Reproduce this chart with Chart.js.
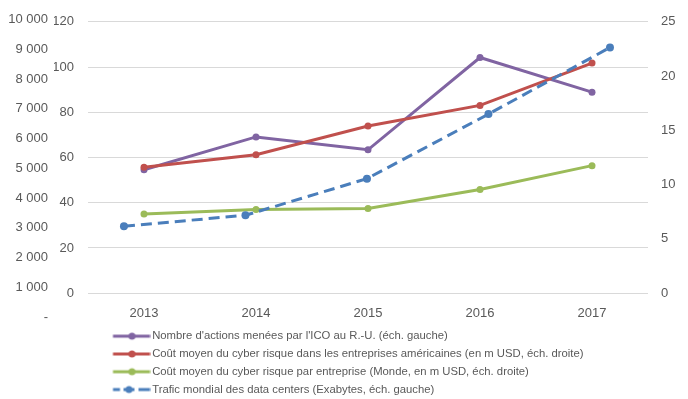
<!DOCTYPE html>
<html><head><meta charset="utf-8">
<script src="https://cdn.jsdelivr.net/npm/chart.js@4/dist/chart.umd.min.js"></script>
<style>html,body{margin:0;padding:0;background:#fff}#wrap{width:688px;height:399px;position:relative}</style>
</head><body><div id="wrap"><canvas id="c" width="688" height="399"></canvas></div>
<script>
const categories = ['2013', '2014', '2015', '2016', '2017'];
const icoActions = [54.6, 69.1, 63.4, 104.2, 88.9];
const usCyberCost = [11.6, 12.75, 15.4, 17.3, 21.2];
const worldCyberCost = [7.3, 7.72, 7.8, 9.55, 11.75];
const dataCenterTraffic = [3050, 3420, 4650, 6820, 9060];
const seriesNames = [
  "Nombre d'actions menées par l'ICO au R.-U. (éch. gauche)",
  "Coût moyen du cyber risque dans les entreprises américaines (en m USD, éch. droite)",
  "Coût moyen du cyber risque par entreprise (Monde, en m USD, éch. droite)",
  "Trafic mondial des data centers (Exabytes, éch. gauche)"
];
const leftTicks = [0, 20, 40, 60, 80, 100, 120];
const rightTicks = [0, 5, 10, 15, 20, 25];
const trafficTicks = [0, 1000, 2000, 3000, 4000, 5000, 6000, 7000, 8000, 9000, 10000];
const trafficTickLabels = ['-', '1 000', '2 000', '3 000', '4 000', '5 000', '6 000', '7 000', '8 000', '9 000', '10 000'];

const colors = ['#8064A2', '#C0504D', '#9BBB59', '#4A7EBB'];
const tickFont = { family: 'Liberation Sans, Arial, sans-serif', size: 13 };
const tickColor = '#595959';

function legendImg(color, dashed) {
  const c = document.createElement('canvas');
  c.width = 48; c.height = 10;
  const g = c.getContext('2d');
  g.strokeStyle = color; g.fillStyle = color; g.lineWidth = 3;
  if (dashed) {
    [[10.5, 17.5], [21, 32], [36, 47.5]].forEach(s => { g.beginPath(); g.moveTo(s[0], 5); g.lineTo(s[1], 5); g.stroke(); });
    g.beginPath(); g.arc(26.5, 5, 3.5, 0, Math.PI * 2); g.fill();
  } else {
    g.beginPath(); g.moveTo(10.5, 5); g.lineTo(47.5, 5); g.stroke();
    g.beginPath(); g.arc(29.5, 5, 3.5, 0, Math.PI * 2); g.fill();
  }
  return c;
}
const legendImgs = colors.map((c, i) => legendImg(c, i === 3));

const shiftLegend = {
  id: 'shiftLegend',
  afterLayout(chart) {
    if (chart.legend) { chart.legend.left = 100; chart.legend.top = 324; }
  }
};

new Chart(document.getElementById('c'), {
  type: 'line',
  data: {
    labels: categories,
    datasets: [
      { label: seriesNames[0], data: icoActions, yAxisID: 'y', xAxisID: 'x', borderColor: colors[0], backgroundColor: colors[0], order: 3 },
      { label: seriesNames[1], data: usCyberCost, yAxisID: 'y2', xAxisID: 'x', borderColor: colors[1], backgroundColor: colors[1], order: 2 },
      { label: seriesNames[2], data: worldCyberCost, yAxisID: 'y2', xAxisID: 'x', borderColor: colors[2], backgroundColor: colors[2], order: 4 },
      { label: seriesNames[3], data: categories.map((c, i) => ({ x: i, y: dataCenterTraffic[i] })), yAxisID: 'y3', xAxisID: 'x2', borderColor: colors[3], backgroundColor: colors[3], borderDash: [11, 6], order: 1, pointRadius: 4 }
    ]
  },
  options: {
    responsive: false,
    devicePixelRatio: 1,
    animation: false,
    layout: { padding: { top: 19, left: 0, right: 0, bottom: -15 } },
    elements: {
      line: { borderWidth: 3, tension: 0, fill: false },
      point: { radius: 3.5, borderWidth: 0, hoverRadius: 3.5 }
    },
    plugins: {
      tooltip: { enabled: false },
      legend: {
        position: 'bottom',
        align: 'start',
        labels: {
          usePointStyle: true,
          pointStyleWidth: 40,
          padding: 6.5,
          color: tickColor,
          font: { family: 'Liberation Sans, Arial, sans-serif', size: 11.3 },
          sort: (a, b) => a.datasetIndex - b.datasetIndex,
          generateLabels(chart) {
            const items = Chart.defaults.plugins.legend.labels.generateLabels(chart);
            items.forEach(it => { it.pointStyle = legendImgs[it.datasetIndex]; it.lineWidth = 0; });
            return items;
          }
        }
      }
    },
    scales: {
      x: {
        type: 'category',
        offset: true,
        grid: { display: false, drawTicks: false },
        border: { display: false },
        ticks: { color: tickColor, font: tickFont, padding: 12, maxRotation: 0, autoSkip: false }
      },
      x2: {
        type: 'linear',
        display: false,
        min: -0.296,
        max: 4.313
      },
      y: {
        position: 'left',
        weight: 0,
        min: 0, max: 120,
        afterBuildTicks: s => { s.ticks = leftTicks.map(v => ({ value: v })); },
        afterFit: s => { s.width = 34; },
        grid: { color: '#D9D9D9', lineWidth: 1, drawTicks: false },
        border: { display: false },
        ticks: { color: tickColor, font: tickFont, padding: 14, autoSkip: false }
      },
      y3: {
        position: 'left',
        weight: 1,
        min: 800, max: 9923,
        afterBuildTicks: s => { s.ticks = trafficTicks.map(v => ({ value: v })); },
        afterFit: s => { s.width = 54; },
        grid: { display: false, drawTicks: false },
        border: { display: false },
        ticks: { color: tickColor, font: tickFont, padding: 6, autoSkip: false,
          callback: (v, i) => trafficTickLabels[i] }
      },
      y2: {
        position: 'right',
        min: 0, max: 25,
        afterBuildTicks: s => { s.ticks = rightTicks.map(v => ({ value: v })); },
        afterFit: s => { s.width = 40; },
        grid: { drawOnChartArea: false, display: false, drawTicks: false },
        border: { display: false },
        ticks: { color: tickColor, font: tickFont, padding: 13, autoSkip: false }
      }
    }
  },
  plugins: [shiftLegend]
});
</script>
</body></html>
